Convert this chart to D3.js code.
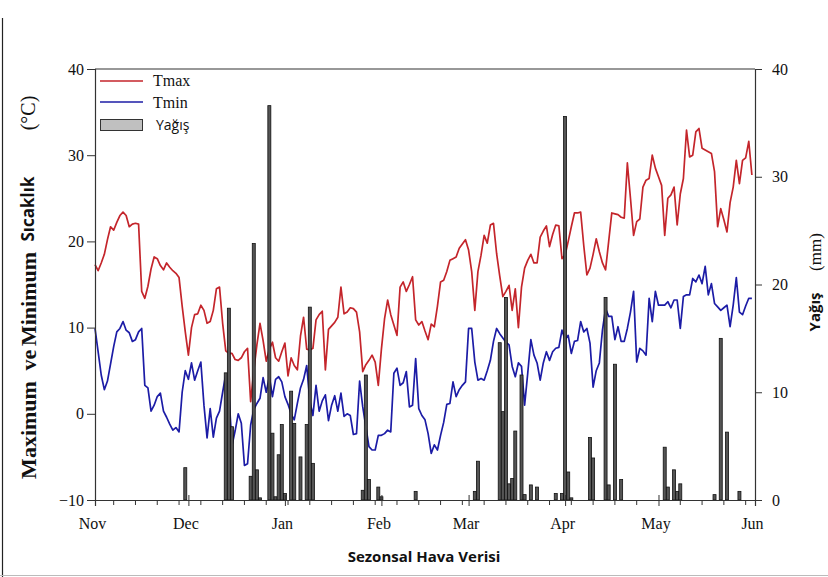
<!DOCTYPE html>
<html>
<head>
<meta charset="utf-8">
<script src="https://cdn.jsdelivr.net/npm/d3@7"></script>
<style>
  body { margin: 0; background: #fff; }
  svg { display: block; }
</style>
</head>
<body>
<svg id="chart" width="828" height="577"></svg>
<script>
// Season: 1 Nov to 1 Jun, one value per day starting on 1 Nov
const seasonStart = new Date(2021, 10, 1);
const seasonEnd = new Date(2022, 5, 1);
const monthLabels = ["Nov", "Dec", "Jan", "Feb", "Mar", "Apr", "May", "Jun"];
const tempTicks = [-10, 0, 10, 20, 30, 40];
const rainTicks = [0, 10, 20, 30, 40];

// Daily maximum temperature (°C)
const tmax = [
  17.3, 16.6, 17.5, 18.5, 20.2, 21.7, 21.3, 22.2, 23.0, 23.4,
  23.0, 21.7, 22.0, 22.1, 22.0, 14.2, 13.4, 14.8, 16.8, 18.2,
  18.0, 17.2, 16.7, 17.5, 17.0, 16.6, 16.3, 15.8, 12.5, 9.5,
  6.8, 10.0, 11.5, 11.6, 12.6, 12.0, 10.5, 10.7, 12.0, 14.5,
  14.7, 10.5, 7.3, 7.0, 7.0, 6.3, 6.2, 6.5, 7.2, 7.6,
  1.4, 5.0, 8.0, 10.5, 8.5, 6.1, 7.5, 8.3, 6.5, 6.1,
  7.2, 8.2, 4.4, 6.5, 5.6, 5.1, 9.0, 11.2, 7.5, 7.4,
  7.6, 10.9, 11.5, 11.9, 5.1, 9.8, 10.2, 10.6, 11.2, 14.7,
  11.6, 11.8, 12.3, 12.2, 11.8, 9.5, 4.9, 5.7, 6.2, 6.8,
  6.0, 3.3, 7.5, 11.0, 13.2, 11.5, 10.3, 9.1, 14.7, 15.3,
  14.2, 15.0, 15.9, 10.9, 10.3, 10.7, 9.6, 8.6, 10.4, 10.1,
  12.5, 15.3, 15.5, 16.5, 17.8, 18.0, 18.2, 19.2, 19.7, 20.2,
  19.0, 16.5, 12.0, 16.5, 18.4, 20.7, 19.8, 21.9, 22.1, 18.6,
  16.0, 13.6, 14.2, 14.9, 12.0, 14.5, 10.0, 14.7, 16.9, 17.8,
  18.5, 17.5, 17.5, 20.5, 21.2, 21.8, 19.4, 20.8, 21.9, 21.8,
  18.0, 18.4, 20.0, 21.7, 23.3, 23.3, 23.4, 19.5, 16.1, 16.9,
  18.5, 20.3, 18.8, 17.5, 16.7, 20.0, 23.3, 23.2, 23.1, 22.8,
  22.7, 29.1, 25.0, 20.7, 22.3, 22.6, 26.3, 27.1, 27.3, 30.0,
  28.5, 27.5, 26.5, 20.7, 25.0, 25.4, 26.3, 21.9, 25.5, 27.3,
  32.9, 29.8, 30.0, 32.7, 33.1, 30.8, 30.6, 30.4, 30.2, 28.1,
  21.7, 23.8, 22.5, 21.1, 24.5, 26.3, 29.4, 26.7, 29.4, 29.7,
  31.6, 27.7
];

// Daily minimum temperature (°C)
const tmin = [
  9.9, 7.2, 4.5, 2.8, 3.8, 5.8, 7.8, 9.5, 9.9, 10.7,
  9.7, 9.4, 8.4, 8.6, 9.5, 9.9, 3.3, 3.0, 0.3, 1.0,
  2.0, 2.4, 0.3, -0.4, -1.2, -1.9, -1.6, -2.1, 2.5, 5.0,
  4.0, 5.9, 3.9, 5.0, 6.0, 1.0, -2.8, 0.6, -2.7, -0.5,
  0.3, 2.5, 4.6, 2.4, -3.7, -2.0, 0.0, -1.1, -6.0, -5.8,
  -1.3, 0.5, 1.2, 1.8, 4.2, 2.5, 4.3, 2.0, 4.0, 4.3,
  3.7, 2.0, 1.1, 0.0, -0.7, 1.2, 3.0, 4.0, 5.6, 1.5,
  -0.2, 3.3, 0.3, 1.5, 2.2, -0.8, 1.0, 2.1, 0.3, 2.4,
  -0.3, 0.0, -0.2, -2.4, -2.3, 3.8, 0.8, -1.5, -3.8, -4.2,
  -4.2, -2.5, -2.5, -2.3, -1.9, -2.1, 4.7, 5.3, 3.3, 3.6,
  4.9, 0.8, 1.0, 6.4, 0.6, -0.2, -0.7, -2.3, -4.6, -3.6,
  -4.2, -2.5, -1.0, 1.1, 1.2, 3.7, 2.0, 2.8, 3.3, 3.7,
  9.9, 9.9, 6.0, 3.9, 4.1, 3.9, 5.0, 6.2, 8.4, 9.9,
  9.3, 8.8, 8.3, 8.0, 5.5, 4.3, 5.9, 5.5, 1.0, 4.7,
  8.6, 6.8, 5.9, 3.9, 5.9, 7.2, 6.2, 7.2, 7.6, 7.7,
  9.7, 8.6, 9.1, 7.0, 8.4, 8.5, 10.7, 9.5, 9.9, 8.2,
  3.1, 5.0, 5.9, 9.7, 12.2, 11.3, 11.3, 8.6, 10.1, 8.4,
  8.4, 9.9, 11.8, 14.2, 6.0, 7.6, 7.3, 6.8, 13.4, 10.7,
  14.2, 12.6, 12.6, 12.6, 13.0, 12.3, 13.2, 13.2, 9.9, 13.6,
  13.8, 13.8, 15.7, 15.3, 16.1, 15.1, 17.1, 13.8, 15.1, 12.8,
  12.4, 12.0, 12.3, 12.6, 10.1, 12.6, 15.8, 11.8, 11.5, 12.5,
  13.4, 13.4
];

// Rainy days (day number from 1 Nov) and daily rainfall (mm)
const rainDay = [
  29, 42, 43, 44, 50, 51, 52, 53, 56, 57, 58, 59, 60, 61, 63, 64, 66, 68, 69, 70,
  86, 87, 88, 91, 92, 103, 122, 123, 130, 131, 132, 133, 134, 135, 137, 138, 140, 142,
  148, 150, 151, 152, 153, 159, 160, 164, 165, 167, 169, 183, 184, 186, 187, 188,
  199, 201, 203, 207
];
const rainMm = [
  3.0, 11.8, 17.8, 6.8, 2.2, 23.8, 2.8, 0.2, 36.6, 6.2, 0.3, 4.2, 7.0, 0.6, 10.1, 7.1, 4.0, 7.0, 17.9, 3.4,
  0.9, 11.6, 1.9, 1.2, 0.3, 0.8, 0.8, 3.6, 14.6, 8.2, 18.8, 1.5, 2.0, 6.4, 11.6, 0.5, 1.4, 1.2,
  0.6, 0.6, 35.6, 2.6, 0.2, 5.8, 3.9, 18.8, 1.4, 12.6, 1.9, 4.9, 1.2, 2.8, 0.8, 1.5,
  0.5, 15.0, 6.3, 0.8
];

const svg = d3.select("#chart");
const plot = { left: 95, right: 755, top: 69, bottom: 500 };
const serif = "'Liberation Serif', 'Times New Roman', serif";
const sans = "'Open Sans', 'Noto Sans', sans-serif";
const axisColor = "#333";

const x = d3.scaleTime().domain([seasonStart, seasonEnd]).range([plot.left, plot.right]);
const yT = d3.scaleLinear().domain([-10, 40]).range([plot.bottom, plot.top]);
const yR = d3.scaleLinear().domain([0, 40]).range([plot.bottom, plot.top]);
const dayDate = i => d3.timeDay.offset(seasonStart, i);

// Outer figure edge
svg.append("line").attr("x1", 2.5).attr("x2", 2.5).attr("y1", 18).attr("y2", 577)
  .attr("stroke", "#222").attr("stroke-width", 1.2);
svg.append("line").attr("x1", 0).attr("x2", 828).attr("y1", 575.5).attr("y2", 575.5)
  .attr("stroke", "#bbb").attr("stroke-width", 1);

// Temperature lines
const line = d3.line().x((d, i) => x(dayDate(i))).y(d => yT(d));
svg.append("path").datum(tmax).attr("d", line)
  .attr("fill", "none").attr("stroke", "#c4252b").attr("stroke-width", 1.7)
  .attr("stroke-linejoin", "round");
svg.append("path").datum(tmin).attr("d", line)
  .attr("fill", "none").attr("stroke", "#1c1ca6").attr("stroke-width", 1.7)
  .attr("stroke-linejoin", "round");

// Rainfall bars
const rain = rainDay.map((d, i) => ({ date: dayDate(d), mm: rainMm[i] }));
const barW = 3;
svg.append("g").selectAll("rect").data(rain).join("rect")
  .attr("x", d => x(d.date) - barW / 2)
  .attr("y", d => yR(d.mm))
  .attr("width", barW)
  .attr("height", d => yR(0) - yR(d.mm))
  .attr("fill", "#555")
  .attr("stroke", "#111")
  .attr("stroke-width", 0.8);

// Frame
svg.append("line").attr("x1", plot.left).attr("x2", plot.right)
  .attr("y1", plot.top).attr("y2", plot.top)
  .attr("stroke", axisColor).attr("stroke-width", 1.2);

// Left axis
const gL = svg.append("g").attr("transform", `translate(${plot.left},0)`)
  .call(d3.axisLeft(yT).tickValues(tempTicks).tickSize(8).tickPadding(3).tickFormat(d3.format("d")));
// Right axis
const gR = svg.append("g").attr("transform", `translate(${plot.right},0)`)
  .call(d3.axisRight(yR).tickValues(rainTicks).tickSize(7).tickPadding(10).tickFormat(d3.format("d")));
// Bottom axis with months
const months = d3.timeMonth.range(seasonStart, d3.timeDay.offset(seasonEnd, 1));
const gB = svg.append("g").attr("transform", `translate(0,${plot.bottom})`)
  .call(d3.axisBottom(x).tickValues(months).tickSize(6).tickPadding(12)
    .tickFormat((d, i) => monthLabels[i]));
gB.selectAll(".tick line").attr("y1", -5);
gB.selectAll(".tick text").attr("dx", "-3");
// Weekly minor ticks
const weeks = d3.timeWeek.range(seasonStart, seasonEnd)
  .filter(w => !months.some(m => +m === +w));
svg.append("g").attr("transform", `translate(0,${plot.bottom})`)
  .selectAll("line").data(weeks).join("line")
  .attr("x1", d => x(d)).attr("x2", d => x(d))
  .attr("y1", 0).attr("y2", 5)
  .attr("stroke", axisColor).attr("stroke-width", 1);

[gL, gR, gB].forEach(g => {
  g.select(".domain").attr("stroke", axisColor).attr("stroke-width", 1.2);
  g.selectAll(".tick line").attr("stroke", axisColor).attr("stroke-width", 1);
  g.selectAll(".tick text").attr("font-family", serif).attr("font-size", 16).attr("fill", "#111");
});

// Legend
const legend = svg.append("g");
legend.append("line").attr("x1", 100).attr("x2", 143).attr("y1", 81).attr("y2", 81)
  .attr("stroke", "#c4252b").attr("stroke-width", 1.7);
legend.append("line").attr("x1", 100).attr("x2", 143).attr("y1", 102).attr("y2", 102)
  .attr("stroke", "#1c1ca6").attr("stroke-width", 1.7);
legend.append("rect").attr("x", 100.5).attr("y", 119.5).attr("width", 42).attr("height", 11)
  .attr("fill", "#c0c0c0").attr("stroke", "#333").attr("stroke-width", 1);
legend.append("text").attr("x", 153).attr("y", 80).attr("dy", "0.35em")
  .attr("font-family", serif).attr("font-size", 16).attr("fill", "#111").text("Tmax");
legend.append("text").attr("x", 153).attr("y", 102).attr("dy", "0.35em")
  .attr("font-family", serif).attr("font-size", 16).attr("fill", "#111").text("Tmin");
legend.append("text").attr("x", 156).attr("y", 125).attr("dy", "0.35em")
  .attr("font-family", sans).attr("font-size", 14).attr("fill", "#111").text("Yağış");

// Axis titles
function vText(xc, yc, txt, font, size, weight) {
  return svg.append("text")
    .attr("transform", `translate(${xc},${yc}) rotate(-90)`)
    .attr("text-anchor", "middle").attr("dy", "0.35em")
    .attr("font-family", font).attr("font-size", size).attr("font-weight", weight)
    .attr("fill", "#111").text(txt);
}
vText(28, 430, "Maximum", serif, 22, "bold");
vText(28, 360, "ve", serif, 22, "bold");
vText(28, 299, "Minimum", serif, 22, "bold");
vText(28, 209, "Sıcaklık", sans, 17, "bold");
vText(28, 113, "(°C)", serif, 20, "normal");

vText(815, 312, "Yağış", sans, 15, "bold");
vText(815, 252, "(mm)", serif, 17, "normal");

svg.append("text").attr("x", 424).attr("y", 557).attr("text-anchor", "middle")
  .attr("dy", "0.35em").attr("font-family", sans).attr("font-size", 15)
  .attr("font-weight", "bold").attr("fill", "#111").text("Sezonsal Hava Verisi");
</script>
</body>
</html>
